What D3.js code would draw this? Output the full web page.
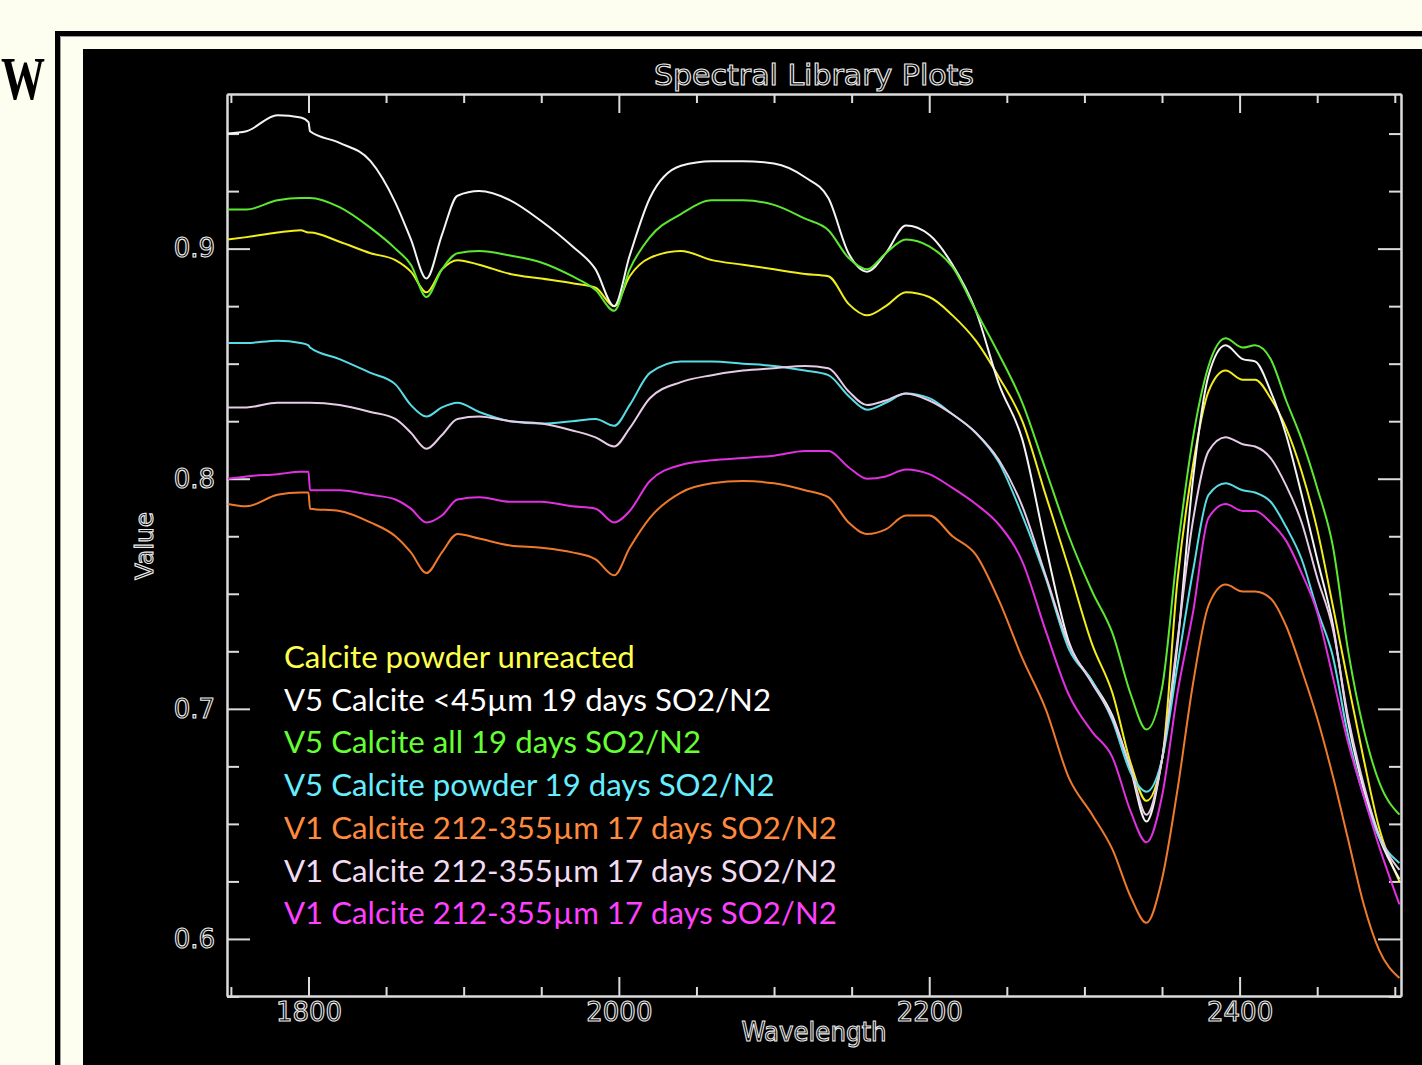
<!DOCTYPE html>
<html><head><meta charset="utf-8">
<script src="https://cdn.jsdelivr.net/npm/d3@7"></script>
<style>
html,body{margin:0;padding:0;background:#fefef0;}
svg{display:block}
</style>
</head><body>
<svg id="chart" width="1422" height="1065"></svg>
<script>
// ---------- data ----------
const wavelength = [1748,1760,1780,1795,1800,1801,1820,1840,1856,1866,1876,1886,1896,1910,1930,1950,1970,1985,1997,2007,2020,2040,2060,2080,2100,2120,2135,2148,2160,2172,2185,2200,2215,2230,2245,2260,2275,2290,2305,2318,2330,2340,2350,2360,2370,2380,2391,2402,2410,2420,2430,2440,2450,2460,2470,2480,2490,2503];

const calcitePowderUnreacted = [.904,.905,.907,.908,.907,.907,.903,.898,.895,.890,.881,.891,.895,.893,.889,.887,.885,.883,.875,.888,.896,.899,.895,.893,.891,.889,.888,.876,.871,.875,.881,.879,.871,.860,.844,.825,.793,.761,.728,.707,.676,.660,.678,.756,.806,.838,.847,.843,.843,.835,.822,.803,.778,.745,.711,.678,.648,.625];
const v5Below45um = [.950,.951,.958,.957,.955,.951,.946,.938,.920,.904,.887,.906,.923,.925,.921,.912,.901,.891,.875,.897,.922,.936,.938,.938,.937,.931,.922,.898,.890,.898,.910,.906,.893,.873,.841,.817,.771,.729,.712,.697,.673,.651,.678,.728,.800,.845,.858,.852,.851,.838,.819,.793,.765,.737,.694,.665,.644,.626];
const v5All = [.917,.917,.921,.922,.922,.922,.918,.909,.900,.893,.879,.891,.898,.899,.897,.894,.888,.882,.873,.891,.905,.915,.921,.921,.919,.913,.908,.896,.891,.898,.904,.901,.892,.873,.854,.833,.804,.775,.751,.733,.706,.691,.709,.769,.818,.849,.861,.857,.858,.852,.834,.817,.796,.771,.725,.691,.668,.654];
const v5Powder = [.859,.859,.860,.859,.858,.857,.852,.846,.841,.832,.827,.831,.833,.829,.825,.824,.825,.826,.823,.832,.846,.851,.851,.850,.849,.847,.845,.836,.830,.833,.837,.835,.828,.820,.807,.784,.757,.726,.712,.695,.672,.664,.678,.719,.760,.793,.798,.795,.794,.790,.779,.765,.743,.723,.688,.662,.644,.633];
const v1Orange = [.789,.788,.793,.794,.794,.787,.786,.781,.775,.768,.759,.768,.776,.774,.771,.770,.768,.765,.758,.770,.783,.794,.798,.799,.798,.795,.792,.781,.776,.778,.784,.784,.775,.767,.747,.722,.700,.670,.654,.639,.618,.607,.626,.665,.711,.745,.754,.751,.751,.748,.736,.717,.696,.671,.643,.615,.595,.583];
const v1Lavender = [.831,.831,.833,.833,.833,.833,.832,.829,.826,.820,.813,.819,.826,.827,.825,.824,.821,.818,.814,.822,.835,.842,.845,.847,.848,.849,.848,.838,.832,.834,.837,.834,.828,.820,.808,.788,.758,.728,.711,.696,.674,.654,.678,.730,.782,.812,.818,.815,.814,.809,.797,.781,.757,.735,.696,.667,.645,.630];
const v1Magenta = [.800,.801,.802,.803,.803,.795,.795,.793,.791,.787,.781,.784,.791,.792,.790,.790,.788,.787,.781,.786,.799,.806,.808,.809,.810,.812,.812,.805,.800,.801,.804,.802,.796,.789,.780,.764,.734,.706,.690,.679,.655,.642,.662,.707,.742,.783,.789,.786,.786,.781,.773,.759,.742,.714,.685,.662,.640,.615];

const seriesLabels = [
  "Calcite powder unreacted",
  "V5 Calcite <45µm 19 days SO2/N2",
  "V5 Calcite all 19 days SO2/N2",
  "V5 Calcite powder 19 days SO2/N2",
  "V1 Calcite 212-355µm 17 days SO2/N2",
  "V1 Calcite 212-355µm 17 days SO2/N2",
  "V1 Calcite 212-355µm 17 days SO2/N2"
];
const seriesValues = [calcitePowderUnreacted, v5Below45um, v5All, v5Powder, v1Orange, v1Lavender, v1Magenta];
const lineColors = ["#f2ee1e","#f4f4f4","#5ce830","#58dde6","#ef7a2c","#e6cce6","#e030e0"];
const legendColors = ["#ffff4d","#ffffff","#66ff33","#66eeff","#ff8a3d","#f2dcf2","#ff40ff"];

const xMajorTicks = [1800, 2000, 2200, 2400];
const xMinorTicks = [1750,1850,1900,1950,2050,2100,2150,2250,2300,2350,2450,2500];
const yMajorTicks = [0.6, 0.7, 0.8, 0.9];
const yMinorTicks = [0.575,0.625,0.65,0.675,0.725,0.75,0.775,0.825,0.85,0.875,0.925,0.95];
const xDomain = [1747.5, 2504];
const yDomain = [0.5752, 0.9672];

const titleText = "Spectral Library Plots";
const xTitle = "Wavelength";
const yTitle = "Value";
const sideLetter = "W";

// ---------- layout ----------
const svg = d3.select("#chart");
const W = 1422, H = 1065;
const plot = {left: 227, right: 1401, top: 94, bottom: 996};
const axisColor = "#dcdcdc";
const textColor = "#ececec";

svg.append("rect").attr("width", W).attr("height", H).attr("fill", "#fefef0");

// letter at left edge
svg.append("text").attr("x", 1).attr("y", 99)
  .attr("text-anchor", "start")
  .attr("font-family", "Liberation Serif, serif")
  .attr("font-weight", "bold")
  .attr("font-size", 62).attr("fill", "#000")
  .attr("textLength", 44).attr("lengthAdjust", "spacingAndGlyphs")
  .text(sideLetter);

// outer frame
svg.append("rect").attr("x", 57.5).attr("y", 33.5).attr("width", W).attr("height", H)
  .attr("fill", "none").attr("stroke", "#000").attr("stroke-width", 5);
svg.append("path").attr("d", `M60.5,${H} V36.5 H${W}`)
  .attr("fill", "none").attr("stroke", "#9a9a9a").attr("stroke-width", 1);

// black panel
svg.append("rect").attr("x", 83).attr("y", 49).attr("width", W - 83).attr("height", H - 49).attr("fill", "#000");

const x = d3.scaleLinear().domain(xDomain).range([plot.left, plot.right]);
const y = d3.scaleLinear().domain(yDomain).range([plot.bottom, plot.top]);

const g = svg.append("g");

// ---------- axes ----------
function styleAxis(sel) {
  sel.selectAll("path.domain").attr("stroke", axisColor).attr("stroke-width", 2);
  sel.selectAll("line").attr("stroke", axisColor).attr("stroke-width", 2);
}
function styleLabels(sel) {
  sel.selectAll("text")
    .attr("font-family", "DejaVu Sans, sans-serif")
    .attr("font-size", 26)
    .attr("fill", "none")
    .attr("stroke", textColor)
    .attr("stroke-width", 1.1);
}

// bottom
const bMaj = g.append("g").attr("transform", `translate(0,${plot.bottom})`)
  .call(d3.axisBottom(x).tickValues(xMajorTicks).tickSize(-19).tickSizeOuter(0).tickPadding(7).tickFormat(d3.format("d")));
styleAxis(bMaj); styleLabels(bMaj);
const bMin = g.append("g").attr("transform", `translate(0,${plot.bottom})`)
  .call(d3.axisBottom(x).tickValues(xMinorTicks).tickSize(-9).tickSizeOuter(0).tickFormat(""));
styleAxis(bMin);
// top
const tMaj = g.append("g").attr("transform", `translate(0,${plot.top})`)
  .call(d3.axisBottom(x).tickValues(xMajorTicks).tickSize(19).tickSizeOuter(0).tickFormat(""));
styleAxis(tMaj);
const tMin = g.append("g").attr("transform", `translate(0,${plot.top})`)
  .call(d3.axisBottom(x).tickValues(xMinorTicks).tickSize(9).tickSizeOuter(0).tickFormat(""));
styleAxis(tMin);
// left
const lMaj = g.append("g").attr("transform", `translate(${plot.left},0)`)
  .call(d3.axisLeft(y).tickValues(yMajorTicks).tickSize(-23).tickSizeOuter(0).tickPadding(12).tickFormat(d3.format(".1f")));
styleAxis(lMaj); styleLabels(lMaj);
const lMin = g.append("g").attr("transform", `translate(${plot.left},0)`)
  .call(d3.axisLeft(y).tickValues(yMinorTicks).tickSize(-12).tickSizeOuter(0).tickFormat(""));
styleAxis(lMin);
// right
const rMaj = g.append("g").attr("transform", `translate(${plot.right},0)`)
  .call(d3.axisLeft(y).tickValues(yMajorTicks).tickSize(23).tickSizeOuter(0).tickFormat(""));
styleAxis(rMaj);
const rMin = g.append("g").attr("transform", `translate(${plot.right},0)`)
  .call(d3.axisLeft(y).tickValues(yMinorTicks).tickSize(12).tickSizeOuter(0).tickFormat(""));
styleAxis(rMin);

// titles
function hollowText(sel, size, len) {
  sel.attr("font-family", "DejaVu Sans, sans-serif").attr("font-size", size)
    .attr("fill", "none").attr("stroke", textColor).attr("stroke-width", 1.1)
    .attr("text-anchor", "middle");
  if (len) sel.attr("textLength", len).attr("lengthAdjust", "spacingAndGlyphs");
  return sel;
}
hollowText(svg.append("text").attr("x", (plot.left + plot.right) / 2).attr("y", 85).text(titleText), 28, 320);
hollowText(svg.append("text").attr("x", (plot.left + plot.right) / 2).attr("y", 1041).text(xTitle), 26, 145);
hollowText(svg.append("text").attr("transform", "translate(153,546) rotate(-90)").text(yTitle), 24, 68);

// ---------- lines ----------
const clipId = "plotclip";
svg.append("clipPath").attr("id", clipId).append("rect")
  .attr("x", plot.left).attr("y", plot.top).attr("width", plot.right - plot.left).attr("height", plot.bottom - plot.top);

const line = d3.line().x((d, i) => x(wavelength[i])).y(d => y(d)).curve(d3.curveMonotoneX);
const lines = svg.append("g").attr("clip-path", `url(#${clipId})`);
seriesValues.forEach((vals, i) => {
  lines.append("path").datum(vals)
    .attr("d", line)
    .attr("fill", "none")
    .attr("stroke", lineColors[i])
    .attr("stroke-width", 2)
    .attr("stroke-linejoin", "round");
});

// ---------- legend ----------
const legend = svg.append("g");
const legendX = 284, legendY0 = 668, legendStep = 42.7;
const texts = legend.selectAll("text").data(seriesLabels).join("text")
  .attr("x", legendX)
  .attr("y", (d, i) => legendY0 + i * legendStep)
  .attr("font-family", "Lato, 'Open Sans', sans-serif")
  .attr("font-size", 30)
  .attr("fill", (d, i) => legendColors[i])
  .text(d => d);
// fit font size so the longest label spans like the reference
let maxW = 0;
texts.each(function() { maxW = Math.max(maxW, this.getComputedTextLength()); });
const fs = 30 * 553 / maxW;
texts.attr("font-size", fs);
</script>
</body></html>
